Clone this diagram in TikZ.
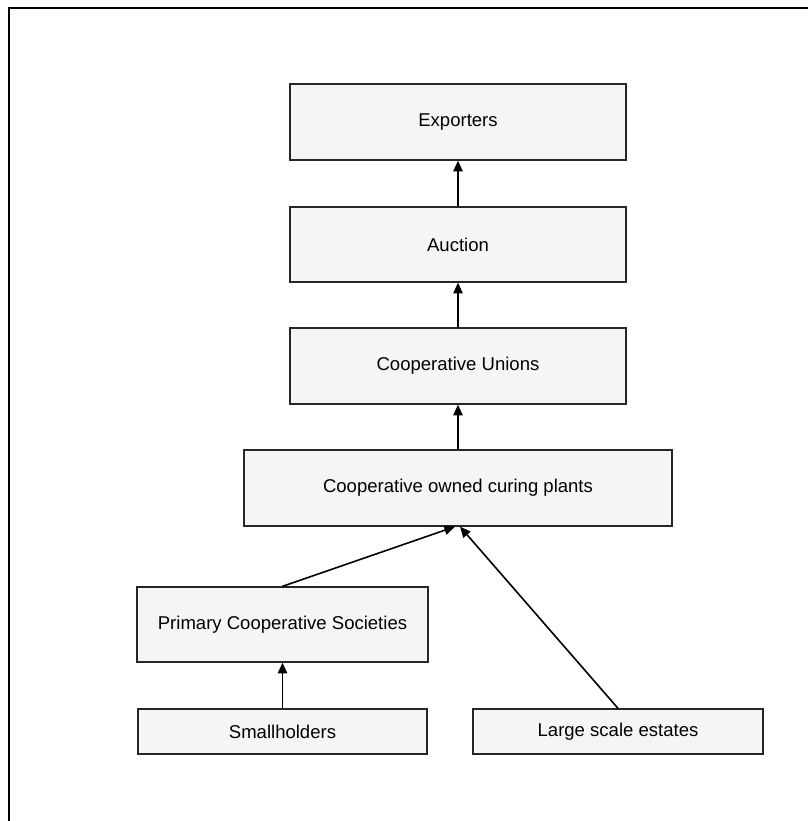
\documentclass[tikz,border=0pt]{standalone}
\usepackage{fontspec}
\setmainfont{Liberation Sans}
\usetikzlibrary{arrows.meta,calc}

\tikzset{
  stage/.style={draw=black!85, fill=black!4, line width=1pt, inner sep=0pt,
                font=\fontsize{13.9pt}{16pt}\selectfont},
  flow/.style={draw=black, line width=1.2pt,
               -{Triangle[length=8pt,width=7pt]}},
  frame/.style={draw=black, line width=1.6pt}
}

\begin{document}
\begin{tikzpicture}[x=0.75pt,y=-0.75pt]
  \useasboundingbox (0,0) rectangle (808,821);

  % outer frame (left and top edges)
  \coordinate (fb) at (9,821);
  \coordinate (fc) at (9,8);
  \coordinate (fr) at (808,8);
  \draw[frame] (fb) -- (fc) -- (fr);

  % stages of the marketing chain
  \node[stage, minimum width=336*0.75pt, minimum height=76*0.75pt] (exp) at (458,122) {Exporters};
  \node[stage, minimum width=336*0.75pt, minimum height=75*0.75pt] (auc) at (458,244.5) {Auction};
  \node[stage, minimum width=336*0.75pt, minimum height=76*0.75pt] (uni) at (458,366) {Cooperative Unions};
  \node[stage, minimum width=428*0.75pt, minimum height=76*0.75pt] (cur) at (458,488) {Cooperative owned curing plants};
  \node[stage, minimum width=291*0.75pt, minimum height=75*0.75pt] (pri) at (282.5,624.5) {Primary Cooperative Societies};
  \node[stage, minimum width=289*0.75pt, minimum height=45*0.75pt] (sma) at (282.5,731.5) {Smallholders};
  \node[stage, minimum width=290*0.75pt, minimum height=45*0.75pt] (lar) at (618,731.5) {Large scale estates};

  % flows
  \draw[flow] (auc.north) -- (exp.south);
  \draw[flow] (uni.north) -- (auc.south);
  \draw[flow] (cur.north) -- (uni.south);
  \draw[flow] (pri.north) -- ($(cur.south)+(-3,0)$);
  \draw[flow] (lar.north) -- ($(cur.south)+(2,0)$);
  \draw[flow] (sma.north) -- (pri.south);
\end{tikzpicture}
\end{document}
